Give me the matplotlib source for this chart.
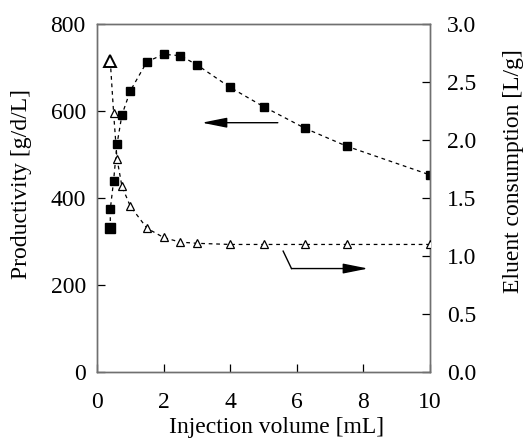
import matplotlib
matplotlib.use("Agg")
import matplotlib.pyplot as plt
from matplotlib.ticker import FormatStrFormatter

# Data
vol_p = [0.4, 0.4, 0.5, 0.6, 0.75, 1.0, 1.5, 2.0, 2.5, 3.0, 4.0, 5.0, 6.25, 7.5, 10.0]
productivity = [330, 374, 440, 523, 591, 646, 713, 730, 727, 706, 654, 610, 560, 519, 453]
vol_e = [0.4, 0.5, 0.6, 0.75, 1.0, 1.5, 2.0, 2.5, 3.0, 4.0, 5.0, 6.25, 7.5, 10.0]
eluent = [2.68, 2.23, 1.84, 1.60, 1.43, 1.24, 1.16, 1.12, 1.11, 1.10, 1.10, 1.10, 1.10, 1.10]

x_ticks = [0, 2, 4, 6, 8, 10]
yl_ticks = [0, 200, 400, 600, 800]
yr_ticks = [0.0, 0.5, 1.0, 1.5, 2.0, 2.5, 3.0]

plt.rcParams['font.family'] = ['Liberation Serif', 'TeX Gyre Termes', 'FreeSerif',
                               'STIXGeneral', 'DejaVu Serif']
plt.rcParams['font.size'] = 17

fig = plt.figure(figsize=(5.27, 4.42), dpi=100)
ax = fig.add_axes([0.184, 0.158, 0.632, 0.788])
ax2 = ax.twinx()

spine_col = '#707070'
for a in (ax, ax2):
    for s in a.spines.values():
        s.set_color(spine_col)
        s.set_linewidth(1.0)

# productivity (squares)
ax.plot(vol_p, productivity, linestyle=(0, (3, 3)), color='black', lw=0.9, zorder=2)
ax.plot(vol_p[1:], productivity[1:], linestyle='none', marker='s', ms=5.2,
        color='black', zorder=3)
ax.plot(vol_p[:1], productivity[:1], linestyle='none', marker='s', ms=7.5,
        color='black', zorder=3)

# eluent consumption (triangles)
ax2.plot(vol_e, eluent, linestyle=(0, (3, 3)), color='black', lw=0.9, zorder=2)
ax2.plot(vol_e[1:], eluent[1:], linestyle='none', marker='^', ms=5.5,
         mfc='white', mec='black', mew=0.9, zorder=3)
ax2.plot(vol_e[:1], eluent[:1], linestyle='none', marker='^', ms=9,
         mfc='white', mec='black', mew=1.4, zorder=3)

ax.set_xlim(0, 10)
ax.set_ylim(0, 800)
ax2.set_ylim(0, 3.0)
ax.set_xticks(x_ticks)
ax.set_yticks(yl_ticks)
ax2.set_yticks(yr_ticks)
ax2.yaxis.set_major_formatter(FormatStrFormatter('%.1f'))

ax.tick_params(axis='y', direction='in', length=6, width=0.9, color='black', pad=8)
ax.tick_params(axis='x', direction='in', length=6, width=0.9, color='black', pad=14)
ax2.tick_params(direction='in', length=6, width=0.9, color='black', pad=12)

ax.set_xlabel('Injection volume [mL]')
ax.xaxis.label.set_va('center')
ax.xaxis.set_label_coords(0.54, -0.158)

ax.set_ylabel('Productivity [g/d/L]')
ax.yaxis.label.set_va('center')
ax.yaxis.set_label_coords(-0.226, 0.54)

ax2.set_ylabel('Eluent consumption [L/g]', rotation=90)
ax2.yaxis.label.set_va('center')
ax2.yaxis.set_label_coords(1.252, 0.578)

# arrows
ax.annotate('', xy=(3.15, 573), xytext=(5.43, 573),
            arrowprops=dict(arrowstyle='-|>,head_length=0.9,head_width=0.18',
                            color='black', lw=1.0, shrinkA=0, shrinkB=0))
ax.plot([5.59, 5.84], [278, 238], color='black', lw=1.0)
ax.annotate('', xy=(8.14, 238), xytext=(5.84, 238),
            arrowprops=dict(arrowstyle='-|>,head_length=0.9,head_width=0.18',
                            color='black', lw=1.0, shrinkA=0, shrinkB=0))

fig.savefig('out.png', dpi=100)
